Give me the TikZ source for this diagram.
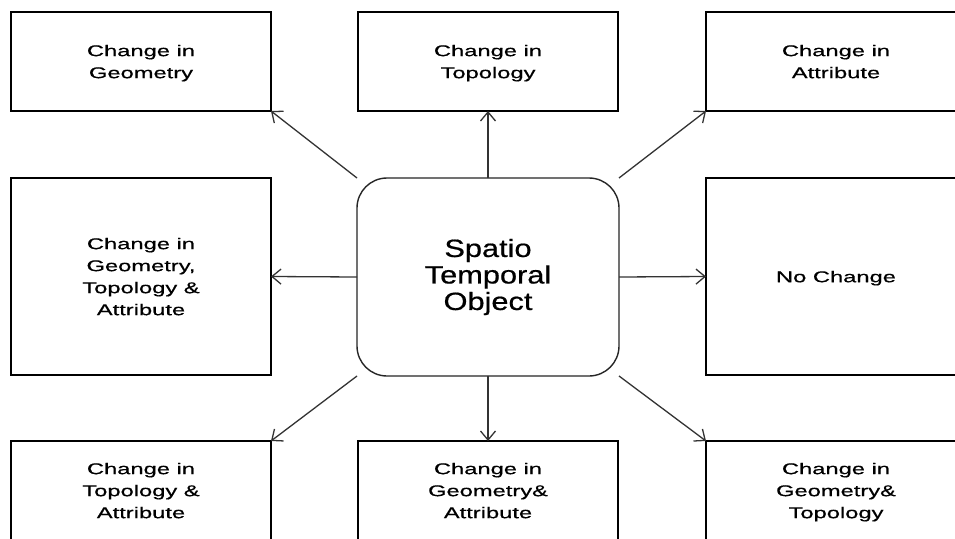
\documentclass[tikz,border=0pt]{standalone}
\usepackage{fontspec}
\setmainfont{Liberation Sans}
\newfontfamily\boxfont{Liberation Sans}[FakeStretch=1.52,FakeBold=0.6]
\newfontfamily\hubfont{Liberation Sans}[FakeStretch=1.23,FakeBold=0.6]
\usetikzlibrary{arrows.meta}
\begin{document}
\begin{tikzpicture}[x=1pt,y=-1pt,
  outcome/.style={draw=black, line width=1.4pt, minimum width=260pt, minimum height=99pt,
    inner sep=0pt, outer sep=0pt, align=center,
    font=\boxfont\fontsize{15.6}{22}\selectfont,
    execute at end node=\strut, text depth=0pt},
  tallbox/.style={outcome, minimum height=197pt},
  hub/.style={draw=black!85, line width=1.4pt, rounded corners=30pt, minimum width=262pt,
    minimum height=198pt, inner sep=0pt, outer sep=0pt, align=center,
    font=\hubfont\fontsize{25}{26.5}\selectfont},
  link/.style={draw=black!80, line width=1.3pt,
    -{Straight Barb[length=9pt,width=15pt,line width=1.3pt]}}]
\clip (0,0) rectangle (955,538);
\fill[white] (0,0) rectangle (955,538);

% central object
\node[hub] (obj) at (488,277) {Spatio\\Temporal\\Object};

% top row
\node[outcome] (geo)  at (141,61.5)  {Change in\\Geometry};
\node[outcome] (topo) at (488,61.5)  {Change in\\Topology};
\node[outcome] (attr) at (836,61.5)  {Change in\\Attribute};

% middle row
\node[tallbox] (all)  at (141,276.5) {Change in\\Geometry,\\Topology \&\\Attribute};
\node[tallbox, text depth=4pt] (none) at (836,276.5) {No Change};

% bottom row
\node[outcome] (ta) at (141,490.5) {Change in\\Topology \&\\Attribute};
\node[outcome] (ga) at (488,490.5) {Change in\\Geometry\&\\Attribute};
\node[outcome] (gt) at (836,490.5) {Change in\\Geometry\&\\Topology};

% connectors
\draw[link] (obj.north west) -- (geo.south east);
\draw[link] (obj.north) -- (topo.south);
\draw[link] (obj.north east) -- (attr.south west);
\draw[link] (obj.west) -- (all.east);
\draw[link] (obj.east) -- (none.west);
\draw[link] (obj.south west) -- (ta.north east);
\draw[link] (obj.south) -- (ga.north);
\draw[link] (obj.south east) -- (gt.north west);
\end{tikzpicture}
\end{document}
